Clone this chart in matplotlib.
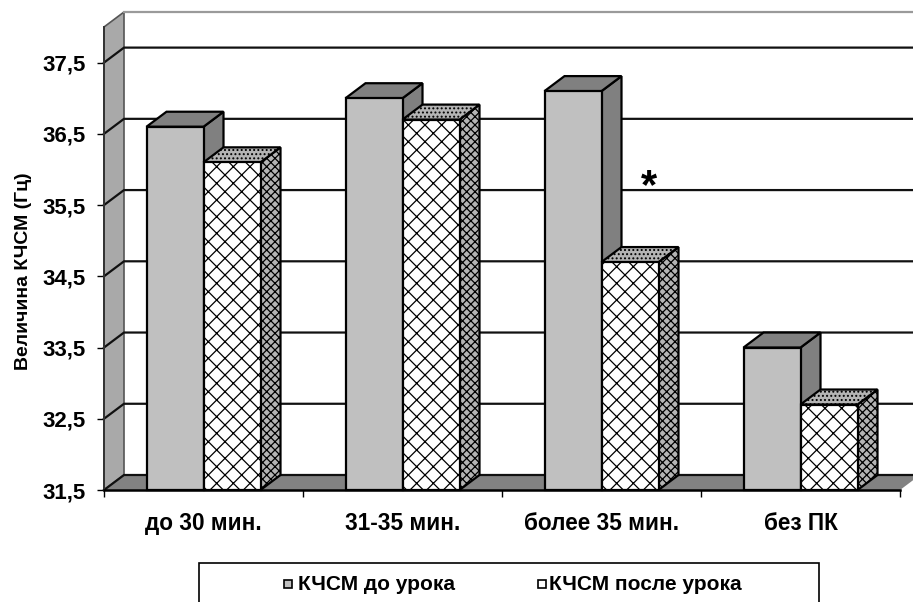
"""Pseudo-3D grouped bars: КЧСМ before and after a lesson."""

import matplotlib.pyplot as plt
from matplotlib.patches import Polygon, Rectangle

plt.rcParams["font.family"] = ["Liberation Sans", "DejaVu Sans"]
plt.rcParams["font.weight"] = "bold"
plt.rcParams["hatch.linewidth"] = 0.9

categories = ["до 30 мин.", "31-35 мин.", "более 35 мин.", "без ПК"]
before = [36.6, 37.0, 37.1, 33.5]
after = [36.1, 36.7, 34.7, 32.7]
y_ticks = [31.5, 32.5, 33.5, 34.5, 35.5, 36.5, 37.5]
series_names = ["КЧСМ до урока", "КЧСМ после урока"]

W, H = 913, 602
Y_MIN, Y_MAX = 31.5, 38.0
DX = 20 / 199  # depth offset, data units
DY = 15 / 71.2
BAR = 57 / 199

fig = plt.figure(figsize=(W / 100, H / 100), dpi=100)
ax = fig.add_axes([104 / W, 1 - 490 / H, 796 / W, 463 / H])
ax.set_xlim(0, 4)
ax.set_ylim(Y_MIN, Y_MAX)
for spine in ax.spines.values():
    spine.set_visible(False)


def poly(points, **kwargs):
    ax.add_patch(Polygon(points, closed=True, clip_on=False, **kwargs))


# walls and floor
poly([(0, Y_MIN), (DX, Y_MIN + DY), (DX, Y_MAX + DY), (0, Y_MAX)],
     facecolor="#a9a9a9", edgecolor="#555555", linewidth=1.2, zorder=1)
poly([(0, Y_MIN), (4, Y_MIN), (4 + DX, Y_MIN + DY), (DX, Y_MIN + DY)],
     facecolor="#828282", edgecolor="none", zorder=1)
ax.plot([DX, 4 + DX], [Y_MAX + DY] * 2, color="#9a9a9a", lw=1.6,
        clip_on=False, zorder=1)

# gridlines on the back wall, running down the side wall
for value in y_ticks:
    ax.plot([0, DX, 4 + DX], [value, value + DY, value + DY], color="#111111",
            lw=1.6, clip_on=False, zorder=2)


def draw_bar(x, value, front, top, side, hatched, zorder):
    kw = dict(edgecolor="black", linewidth=1.6, zorder=zorder)
    poly([(x + BAR, Y_MIN), (x + BAR + DX, Y_MIN + DY),
          (x + BAR + DX, value + DY), (x + BAR, value)],
         facecolor=side, hatch="xxxx" if hatched else None, **kw)
    poly([(x, value), (x + DX, value + DY), (x + BAR + DX, value + DY),
          (x + BAR, value)],
         facecolor=top, hatch="...." if hatched else None, **kw)
    ax.bar(x, value - Y_MIN, width=BAR, bottom=Y_MIN, align="edge",
           facecolor=front, hatch="xx" if hatched else None, clip_on=False, **kw)


for i, (v_before, v_after) in enumerate(zip(before, after)):
    center = i + 0.5
    draw_bar(center - BAR, v_before, "#c0c0c0", "#808080", "#808080", False, 3 + i)
    draw_bar(center, v_after, "white", "#b4b4b4", "#b4b4b4", True, 3.5 + i)

ax.plot([0, 4], [Y_MIN, Y_MIN], color="black", lw=1.8, clip_on=False, zorder=10)
ax.plot([0, 0], [Y_MIN, Y_MAX], color="#333333", lw=1.4, clip_on=False, zorder=2)

ax.set_yticks(y_ticks)
ax.set_yticklabels([f"{v:.1f}".replace(".", ",") for v in y_ticks], fontsize=16)
ax.set_xticks([0, 1, 2, 3, 4])
ax.set_xticklabels([])
ax.set_xticks([0.5, 1.5, 2.5, 3.5], labels=categories, minor=True, fontsize=16.3)
ax.tick_params(axis="x", which="major", length=5, width=1)
ax.tick_params(axis="x", which="minor", length=0, pad=16)
ax.tick_params(axis="y", length=5, width=1, pad=8)

fig.text(24 / W, 1 - 271 / H, "Величина КЧСМ (Гц)", rotation=90, fontsize=14,
         ha="center", va="center")
fig.text(649 / W, 1 - 187 / H, "*", fontsize=30, ha="center", va="center")

# legend box runs off the bottom of the image
fig.add_artist(Rectangle((199 / W, -0.02), 620 / W, 39 / H + 0.02,
                         transform=fig.transFigure, facecolor="white",
                         edgecolor="black", linewidth=1.2))
fig.add_artist(Rectangle((284 / W, 1 - 588 / H), 8 / W, 8 / H,
                         transform=fig.transFigure, facecolor="#c0c0c0",
                         edgecolor="black", linewidth=1.2))
fig.add_artist(Rectangle((538 / W, 1 - 588 / H), 8 / W, 8 / H,
                         transform=fig.transFigure, facecolor="white",
                         edgecolor="black", linewidth=1.2))
fig.text(298 / W, 1 - 584 / H, series_names[0], fontsize=15, va="center")
fig.text(549 / W, 1 - 584 / H, series_names[1], fontsize=15, va="center")

fig.savefig("out.png", dpi=100)
